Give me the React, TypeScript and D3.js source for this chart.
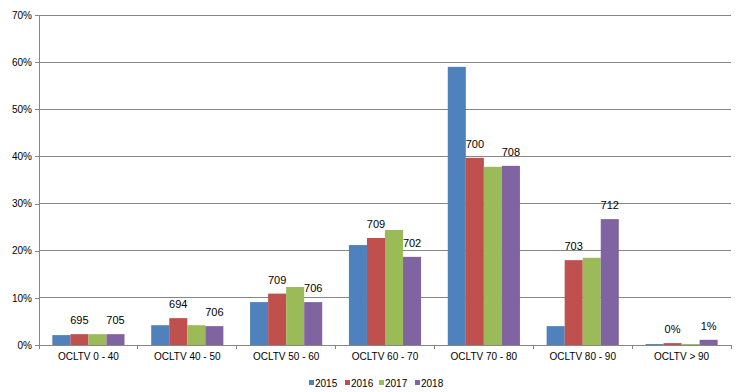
import React, { useEffect, useRef } from 'react';
import * as d3 from 'd3';

const categories = ['OCLTV 0 - 40', 'OCLTV 40 - 50', 'OCLTV 50 - 60', 'OCLTV 60 - 70', 'OCLTV 70 - 80', 'OCLTV 80 - 90', 'OCLTV > 90'];
const years = ['2015', '2016', '2017', '2018'];
const colors = ['#4F81BD', '#C0504D', '#9BBB59', '#8064A2'];

// share of loans, percent
const s2015 = [2.1, 4.2, 9.1, 21.2, 59.0, 4.0, 0.2];
const s2016 = [2.3, 5.7, 10.9, 22.7, 39.7, 18.0, 0.4];
const s2017 = [2.3, 4.2, 12.3, 24.4, 37.8, 18.5, 0.2];
const s2018 = [2.3, 4.0, 9.1, 18.7, 38.0, 26.7, 1.1];
const series = [s2015, s2016, s2017, s2018];

// custom data labels (shown above 2016 and 2018 bars)
const labels2016 = ['695', '694', '709', '709', '700', '703', '0%'];
const labels2018 = ['705', '706', '706', '702', '708', '712', '1%'];

const yTicks = [0, 10, 20, 30, 40, 50, 60, 70];

export default function App() {
  const svgRef = useRef<SVGSVGElement>(null);
  const width = 736;
  const height = 392;

  useEffect(() => {
    const svg = d3.select(svgRef.current);
    svg.selectAll('*').remove();

    const margin = { top: 15, right: 5, bottom: 47, left: 39 };
    const innerWidth = width - margin.left - margin.right;
    const innerHeight = height - margin.top - margin.bottom;
    const font = 'Liberation Sans, Arial, sans-serif';

    const g = svg.append('g').attr('transform', `translate(${margin.left},${margin.top})`);

    const x0 = d3.scaleBand().domain(categories).range([0, innerWidth]).paddingInner(0.27).paddingOuter(0.135);
    const x1 = d3.scaleBand().domain(years).range([0, x0.bandwidth()]);
    const y = d3.scaleLinear().domain([0, 70]).range([innerHeight, 0]);

    // gridlines
    g.append('g')
      .selectAll('line')
      .data(yTicks.slice(1))
      .join('line')
      .attr('x1', 0)
      .attr('x2', innerWidth)
      .attr('y1', d => y(d))
      .attr('y2', d => y(d))
      .attr('stroke', '#868686')
      .attr('stroke-width', 1)
      .attr('shape-rendering', 'crispEdges');

    // y axis
    const yAxis = g.append('g')
      .call(d3.axisLeft(y).tickValues(yTicks).tickSize(4).tickPadding(3).tickFormat(d => `${d}%`));
    yAxis.select('.domain').attr('stroke', '#868686').attr('shape-rendering', 'crispEdges');
    yAxis.selectAll('line').attr('stroke', '#868686').attr('shape-rendering', 'crispEdges');
    yAxis.selectAll('text').attr('font-family', font).attr('font-size', 10).attr('fill', '#000');

    // bars
    categories.forEach((c, i) => {
      series.forEach((s, j) => {
        g.append('rect')
          .attr('x', (x0(c) ?? 0) + (x1(years[j]) ?? 0))
          .attr('y', y(s[i]))
          .attr('width', x1.bandwidth())
          .attr('height', y(0) - y(s[i]))
          .attr('fill', colors[j]);
      });

      const labelAt = (j: number, text: string) => {
        g.append('text')
          .attr('x', (x0(c) ?? 0) + (x1(years[j]) ?? 0) + x1.bandwidth() / 2)
          .attr('y', y(series[j][i]) - 10)
          .attr('text-anchor', 'middle')
          .attr('font-family', font)
          .attr('font-size', 11)
          .attr('fill', '#000')
          .text(text);
      };
      labelAt(1, labels2016[i]);
      labelAt(3, labels2018[i]);
    });

    // x axis
    g.append('line')
      .attr('x1', 0).attr('x2', innerWidth)
      .attr('y1', innerHeight).attr('y2', innerHeight)
      .attr('stroke', '#868686')
      .attr('shape-rendering', 'crispEdges');
    const step = innerWidth / categories.length;
    d3.range(categories.length + 1).forEach(k => {
      g.append('line')
        .attr('x1', k * step).attr('x2', k * step)
        .attr('y1', innerHeight).attr('y2', innerHeight + 4)
        .attr('stroke', '#868686')
        .attr('shape-rendering', 'crispEdges');
    });
    categories.forEach((c, i) => {
      g.append('text')
        .attr('x', (i + 0.5) * step)
        .attr('y', innerHeight + 15)
        .attr('text-anchor', 'middle')
        .attr('font-family', font)
        .attr('font-size', 10)
        .attr('fill', '#000')
        .text(c);
    });

    // legend
    const legendX = [309, 345, 379, 415];
    years.forEach((yr, j) => {
      svg.append('rect')
        .attr('x', legendX[j])
        .attr('y', 380)
        .attr('width', 5)
        .attr('height', 5)
        .attr('fill', colors[j]);
      svg.append('text')
        .attr('x', legendX[j] + 6)
        .attr('y', 386.5)
        .attr('font-family', font)
        .attr('font-size', 10)
        .attr('fill', '#000')
        .text(yr);
    });
  }, []);

  return (
    <svg
      ref={svgRef}
      width={width}
      height={height}
      style={{ position: 'absolute', left: 0, top: 0, background: '#fff' }}
    />
  );
}
